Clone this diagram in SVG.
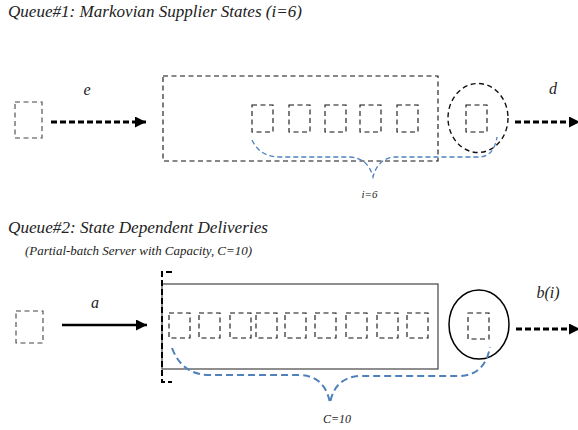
<svg xmlns="http://www.w3.org/2000/svg" width="578" height="430" viewBox="0 0 578 430">
<style>
text{font-style:italic;fill:#222}
.t{font-size:17px}
.sub{font-size:12.5px}
.lbl{font-size:16px}
.sm{font-size:11px}
.db{fill:none;stroke:#111;stroke-width:1.1;stroke-dasharray:5,3.5}
.dg{fill:none;stroke:#444;stroke-width:1.1;stroke-dasharray:5,3.5}
.thick{fill:none;stroke:#000;stroke-width:3;stroke-dasharray:6,3}
.br1{fill:none;stroke:#4F81BD;stroke-width:1.3;stroke-dasharray:5,3}
.br2{fill:none;stroke:#4F81BD;stroke-width:2;stroke-dasharray:7,4}
</style>
<defs>
<marker id="ah" viewBox="0 0 10 10" refX="10" refY="5" markerWidth="15" markerHeight="11" markerUnits="userSpaceOnUse" orient="auto"><path d="M0,0L10,5L0,10z" fill="#000"/></marker>
</defs>
<g font-family="'Liberation Serif', 'DejaVu Serif', serif">
<text class="t" x="8" y="17" textLength="294" lengthAdjust="spacingAndGlyphs">Queue#1: Markovian Supplier States (i=6)</text>

<g id="source1"><rect class="dg" x="15" y="102" width="27" height="36"/></g>
<g id="queue1">
<rect class="db" x="163" y="76" width="275" height="85"/>
<rect class="db" x="252" y="105" width="21" height="27"/>
<rect class="db" x="289" y="105" width="21" height="27"/>
<rect class="db" x="325" y="105" width="21" height="27"/>
<rect class="db" x="360" y="105" width="21" height="27"/>
<rect class="db" x="397" y="105" width="21" height="27"/>
</g>
<g id="server1">
<ellipse class="db" cx="478" cy="118" rx="30" ry="34.5" style="stroke-width:1.4"/>
<rect class="db" x="466" y="105" width="21" height="27"/>
</g>
<g id="brace1">
<path class="br1" d="M252,140 Q260,157 280,157 H350 Q368,158 373,177 Q378,158 395,157 H480 Q494,156 497,137"/>
<text class="sm" x="369.5" y="198" text-anchor="middle">i=6</text>
</g>

<text class="t" x="8" y="233" textLength="260" lengthAdjust="spacingAndGlyphs">Queue#2: State Dependent Deliveries</text>
<text class="sub" x="25" y="255" textLength="227" lengthAdjust="spacingAndGlyphs">(Partial-batch Server with Capacity, C=10)</text>

<g id="source2"><rect class="dg" x="16" y="311" width="27" height="32"/></g>
<g id="queue2">
<rect x="162" y="284" width="276" height="85" fill="none" stroke="#444" stroke-width="1.2"/>
<path d="M172,272 H162 V382 H172" fill="none" stroke="#000" stroke-width="2" stroke-dasharray="6,3"/>
<rect class="db" x="169" y="313" width="21" height="25"/>
<rect class="db" x="199" y="313" width="21" height="25"/>
<rect class="db" x="230" y="313" width="21" height="25"/>
<rect class="db" x="256" y="313" width="21" height="25"/>
<rect class="db" x="285" y="313" width="21" height="25"/>
<rect class="db" x="315" y="313" width="21" height="25"/>
<rect class="db" x="346" y="313" width="21" height="25"/>
<rect class="db" x="377" y="313" width="21" height="25"/>
<rect class="db" x="407" y="313" width="21" height="25"/>
</g>
<g id="server2">
<ellipse cx="479" cy="324.5" rx="30" ry="34.5" fill="none" stroke="#000" stroke-width="1.5"/>
<rect class="db" x="468" y="313" width="21" height="26"/>
</g>
<g id="brace2">
<path class="br2" d="M172,348 Q182,375 210,375 H300 Q325,376 330,403 Q335,377 360,376 H460 Q485,375 490,347"/>
<text class="sm" x="337" y="423" text-anchor="middle" style="font-size:12px">C=10</text>
</g>

<g id="connectors">
<line class="thick" x1="51" y1="122" x2="146" y2="122" marker-end="url(#ah)"/>
<line class="thick" x1="515" y1="122" x2="580" y2="122" marker-end="url(#ah)"/>
<line x1="62" y1="325" x2="147" y2="325" stroke="#000" stroke-width="2.5" marker-end="url(#ah)"/>
<line class="thick" x1="516" y1="329" x2="580" y2="329" marker-end="url(#ah)"/>
<text class="lbl" x="87" y="95" text-anchor="middle">e</text>
<text class="lbl" x="553" y="94" text-anchor="middle">d</text>
<text class="lbl" x="95" y="308" text-anchor="middle">a</text>
<text class="lbl" x="548" y="298" text-anchor="middle">b(i)</text>
</g>
</g>
</svg>
